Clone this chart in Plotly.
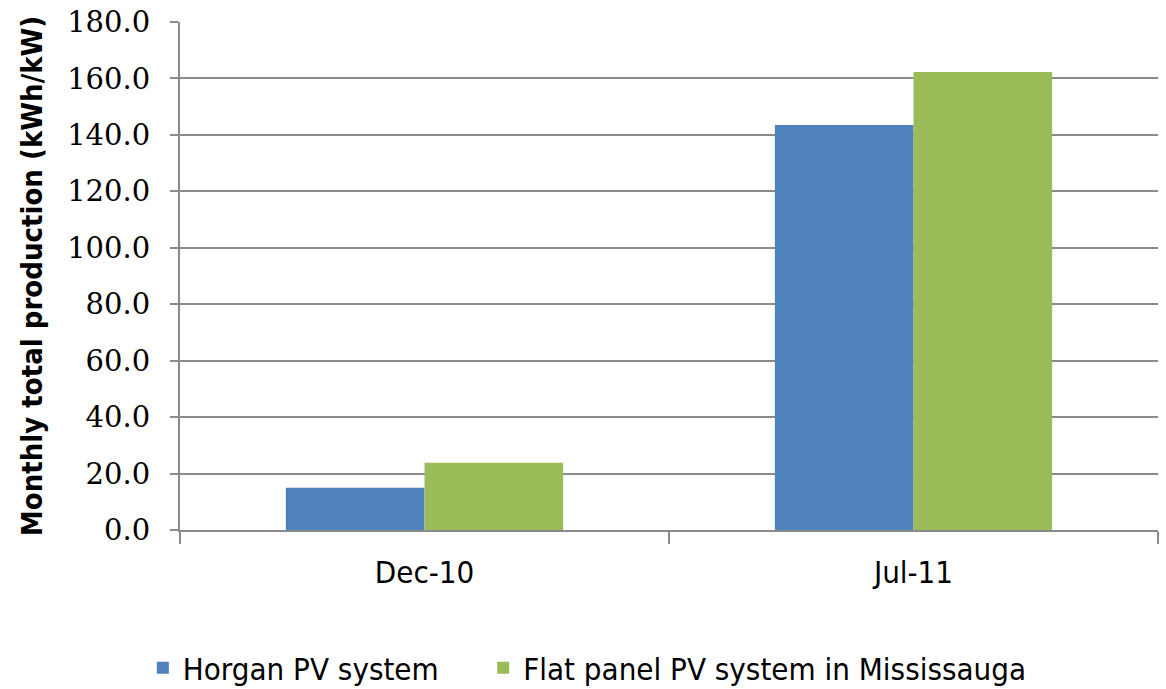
import plotly.graph_objects as go

# Monthly production per kW installed
months = ["Dec-10", "Jul-11"]
horgan = [15.0, 143.5]
flat_panel = [23.8, 162.3]
series_names = ["Horgan PV system", "Flat panel PV system in Mississauga"]
y_ticks = [0, 20, 40, 60, 80, 100, 120, 140, 160, 180]

grid_color = "#8a8a8a"
narrow = "DejaVu Sans Condensed, Liberation Sans Narrow, sans-serif"

fig = go.Figure()
fig.add_trace(go.Bar(x=months, y=horgan, name=series_names[0], legend="legend",
                     marker=dict(color="#4F81BD", line=dict(width=0))))
fig.add_trace(go.Bar(x=months, y=flat_panel, name=series_names[1], legend="legend2",
                     marker=dict(color="#9BBB59", line=dict(width=0))))

legend_style = dict(orientation="h", xanchor="left", y=-0.272, yanchor="middle",
                    font=dict(size=31, family=narrow), bgcolor="rgba(0,0,0,0)")

fig.update_layout(
    width=1166, height=689,
    margin=dict(l=180, r=8, t=22, b=159, autoexpand=False),
    paper_bgcolor="white", plot_bgcolor="white",
    barmode="group", bargap=0.433, bargroupgap=0,
    font=dict(family=narrow, color="black"),
    legend=dict(x=-0.038, **legend_style),
    legend2=dict(x=0.31, **legend_style),
    showlegend=True,
)
fig.update_xaxes(
    type="category", showgrid=False, showline=True, linecolor=grid_color, linewidth=2,
    ticks="outside", tickson="boundaries", ticklen=12, tickcolor=grid_color, tickwidth=2,
    tickfont=dict(size=31, family=narrow),
    ticklabelstandoff=14,
)
fig.update_yaxes(
    range=[0, 180], tickvals=y_ticks, tickformat=".1f",
    showgrid=True, gridcolor=grid_color, gridwidth=2,
    showline=True, linecolor=grid_color, linewidth=2,
    ticks="outside", ticklen=8, tickcolor=grid_color, tickwidth=2,
    tickfont=dict(size=29, family="DejaVu Serif, Liberation Serif, serif"),
    ticklabelstandoff=14, zeroline=False,
    title=dict(text="<b>Monthly total production (kWh/kW)</b>", standoff=16,
               font=dict(size=29, family=narrow)),
)

fig.write_html("out.html")
